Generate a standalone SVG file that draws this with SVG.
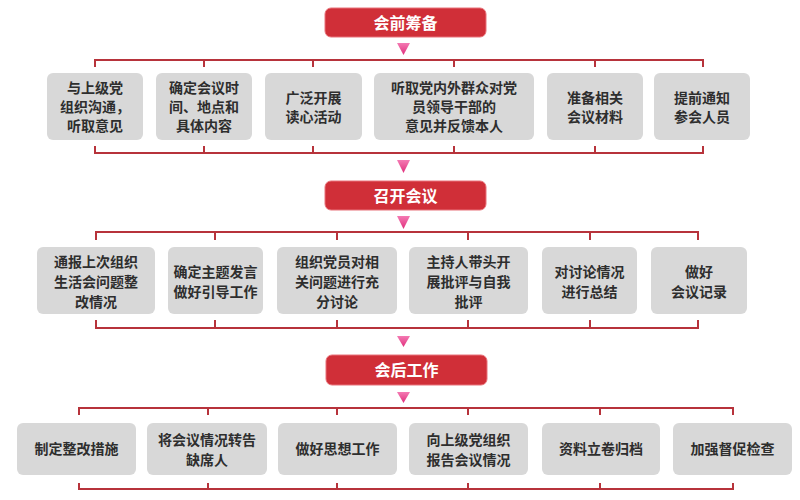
<svg xmlns="http://www.w3.org/2000/svg" width="800" height="500" viewBox="0 0 800 500">
<defs>
<linearGradient id="ag" x1="0" y1="0" x2="0" y2="1">
<stop offset="0" stop-color="#f47ab3"/>
<stop offset="1" stop-color="#e02f7c"/>
</linearGradient>
<style>
.hd{fill:#d02f38;stroke:#e8737a;stroke-width:1}
.ht{fill:#ffffff;font-family:"Noto Sans CJK SC","Noto Sans CJK JP",sans-serif;font-weight:bold;font-size:16px;text-anchor:middle}
.bx{fill:#d8d8d8}
.bt{fill:#2e2e2e;font-family:"Noto Sans CJK SC","Noto Sans CJK JP",sans-serif;font-weight:bold;font-size:14px;text-anchor:middle}
.ln{fill:none;stroke:#b7333b;stroke-width:2}
.ar{fill:url(#ag)}
</style>
</defs>
<rect width="800" height="500" fill="#ffffff"/>

<g id="connectors">
<path class="ln" d="M95 67V60H703V67M204 60V67M313 60V67M454 60V67M595 60V67"/>
<path class="ln" d="M95 146V153H703V146M204 153V146M313 153V146M454 153V146M595 153V146"/>
<path class="ln" d="M96 240V232H698V240M215 232V240M337 232V240M468 232V240M590 232V240"/>
<path class="ln" d="M96 320V328H698V320M215 328V320M337 328V320M468 328V320M590 328V320"/>
<path class="ln" d="M79 415V408H733V415M208 408V415M337 408V415M468 408V415M600 408V415"/>
<path class="ln" d="M79 483V489H733V483M208 489V483M337 489V483M468 489V483M600 489V483"/>
<polygon class="ar" points="397,43 410,43 403.5,55"/>
<polygon class="ar" points="397,160 410,160 403.5,173"/>
<polygon class="ar" points="397,216 410,216 403.5,229"/>
<polygon class="ar" points="397,336 410,336 403.5,347"/>
<polygon class="ar" points="397,392 410,392 403.5,403"/>
</g>

<g id="h1"><rect class="hd" x="325" y="8" width="161" height="29" rx="6"/><text class="ht" x="405.5" y="28.5">会前筹备</text></g>
<g id="h2"><rect class="hd" x="325" y="181" width="161" height="29" rx="6"/><text class="ht" x="405.5" y="201.5">召开会议</text></g>
<g id="h3"><rect class="hd" x="326" y="355" width="161" height="30" rx="6"/><text class="ht" x="406.5" y="375.5">会后工作</text></g>

<g id="a1"><rect class="bx" x="47" y="73" width="96" height="67" rx="6"/><text class="bt"><tspan x="95" y="93">与上级党</tspan><tspan x="95" y="112">组织沟通，</tspan><tspan x="95" y="131">听取意见</tspan></text></g>
<g id="a2"><rect class="bx" x="156" y="73" width="96" height="67" rx="6"/><text class="bt"><tspan x="204" y="93">确定会议时</tspan><tspan x="204" y="112">间、地点和</tspan><tspan x="204" y="131">具体内容</tspan></text></g>
<g id="a3"><rect class="bx" x="265" y="73" width="97" height="67" rx="6"/><text class="bt"><tspan x="313.5" y="103">广泛开展</tspan><tspan x="313.5" y="122">读心活动</tspan></text></g>
<g id="a4"><rect class="bx" x="374" y="73" width="160" height="67" rx="6"/><text class="bt"><tspan x="454" y="93">听取党内外群众对党</tspan><tspan x="454" y="112">员领导干部的</tspan><tspan x="454" y="131">意见并反馈本人</tspan></text></g>
<g id="a5"><rect class="bx" x="547" y="73" width="96" height="67" rx="6"/><text class="bt"><tspan x="595" y="103">准备相关</tspan><tspan x="595" y="122">会议材料</tspan></text></g>
<g id="a6"><rect class="bx" x="654" y="73" width="96" height="67" rx="6"/><text class="bt"><tspan x="702" y="103">提前通知</tspan><tspan x="702" y="122">参会人员</tspan></text></g>

<g id="b1"><rect class="bx" x="37" y="247" width="118" height="67" rx="6"/><text class="bt"><tspan x="96" y="267">通报上次组织</tspan><tspan x="96" y="287">生活会问题整</tspan><tspan x="96" y="307">改情况</tspan></text></g>
<g id="b2"><rect class="bx" x="168" y="247" width="95" height="67" rx="6"/><text class="bt"><tspan x="215.5" y="277">确定主题发言</tspan><tspan x="215.5" y="297">做好引导工作</tspan></text></g>
<g id="b3"><rect class="bx" x="277" y="247" width="120" height="67" rx="6"/><text class="bt"><tspan x="337" y="267">组织党员对相</tspan><tspan x="337" y="287">关问题进行充</tspan><tspan x="337" y="307">分讨论</tspan></text></g>
<g id="b4"><rect class="bx" x="409" y="247" width="119" height="67" rx="6"/><text class="bt"><tspan x="468.5" y="267">主持人带头开</tspan><tspan x="468.5" y="287">展批评与自我</tspan><tspan x="468.5" y="307">批评</tspan></text></g>
<g id="b5"><rect class="bx" x="542" y="247" width="95" height="67" rx="6"/><text class="bt"><tspan x="589.5" y="277">对讨论情况</tspan><tspan x="589.5" y="297">进行总结</tspan></text></g>
<g id="b6"><rect class="bx" x="651" y="247" width="96" height="67" rx="6"/><text class="bt"><tspan x="699" y="277">做好</tspan><tspan x="699" y="297">会议记录</tspan></text></g>

<g id="c1"><rect class="bx" x="17" y="423" width="119" height="52" rx="6"/><text class="bt" x="76.5" y="454">制定整改措施</text></g>
<g id="c2"><rect class="bx" x="147" y="423" width="120" height="52" rx="6"/><text class="bt"><tspan x="207" y="445">将会议情况转告</tspan><tspan x="207" y="465">缺席人</tspan></text></g>
<g id="c3"><rect class="bx" x="278" y="423" width="119" height="52" rx="6"/><text class="bt" x="337.5" y="454">做好思想工作</text></g>
<g id="c4"><rect class="bx" x="409" y="423" width="119" height="52" rx="6"/><text class="bt"><tspan x="468.5" y="445">向上级党组织</tspan><tspan x="468.5" y="465">报告会议情况</tspan></text></g>
<g id="c5"><rect class="bx" x="542" y="423" width="118" height="52" rx="6"/><text class="bt" x="601" y="454">资料立卷归档</text></g>
<g id="c6"><rect class="bx" x="673" y="423" width="119" height="52" rx="6"/><text class="bt" x="732.5" y="454">加强督促检查</text></g>
</svg>
